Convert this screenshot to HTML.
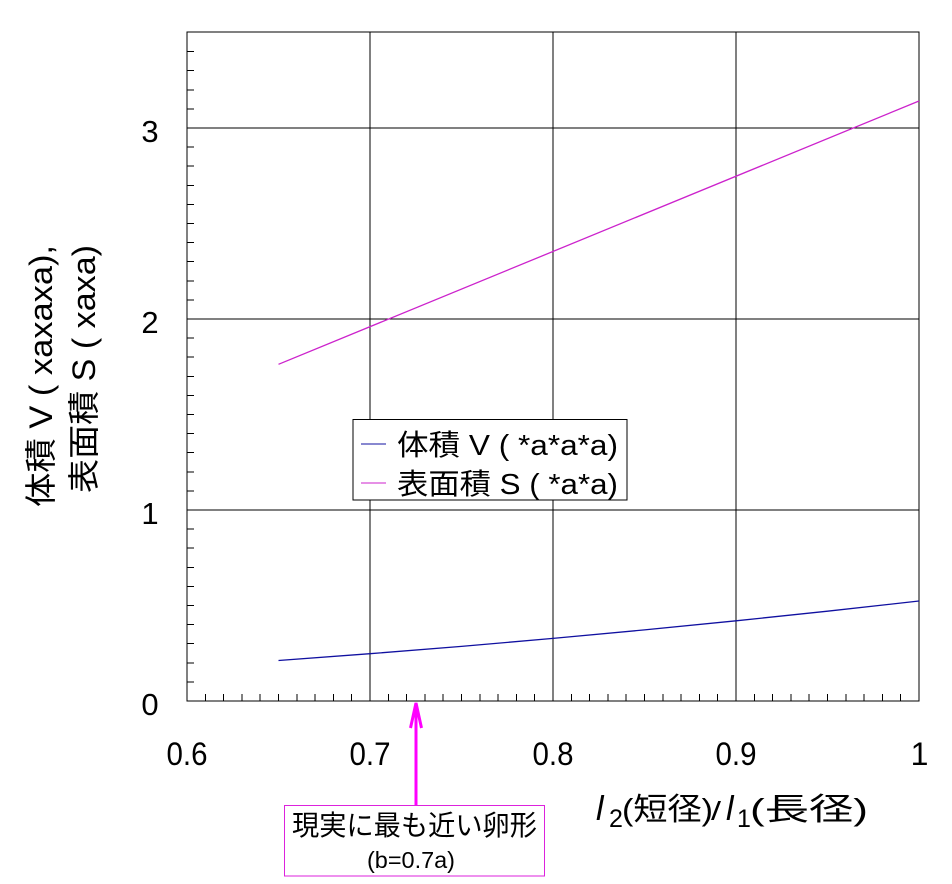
<!DOCTYPE html>
<html>
<head>
<meta charset="utf-8">
<style>
html,body{margin:0;padding:0;background:#fff;}
svg{display:block;}
text{font-family:"Liberation Sans","Noto Sans CJK JP",sans-serif;fill:#000;}
</style>
</head>
<body>
<svg width="952" height="884" viewBox="0 0 952 884" xmlns="http://www.w3.org/2000/svg">
<rect x="0" y="0" width="952" height="884" fill="#fff"/>

<!-- grid -->
<g stroke="#000" stroke-width="1" shape-rendering="crispEdges">
  <line x1="370" y1="32" x2="370" y2="701"/>
  <line x1="553" y1="32" x2="553" y2="701"/>
  <line x1="736" y1="32" x2="736" y2="701"/>
  <line x1="187" y1="510" x2="919" y2="510"/>
  <line x1="187" y1="319" x2="919" y2="319"/>
  <line x1="187" y1="128" x2="919" y2="128"/>
  <rect x="187" y="32" width="732" height="669" fill="none"/>
</g>

<!-- y minor ticks -->
<g stroke="#000" stroke-width="1" shape-rendering="crispEdges">
  <line x1="187" y1="681.9" x2="194" y2="681.9"/>
  <line x1="187" y1="662.8" x2="194" y2="662.8"/>
  <line x1="187" y1="643.7" x2="194" y2="643.7"/>
  <line x1="187" y1="624.6" x2="194" y2="624.6"/>
  <line x1="187" y1="605.5" x2="194" y2="605.5"/>
  <line x1="187" y1="586.4" x2="194" y2="586.4"/>
  <line x1="187" y1="567.3" x2="194" y2="567.3"/>
  <line x1="187" y1="548.2" x2="194" y2="548.2"/>
  <line x1="187" y1="529.1" x2="194" y2="529.1"/>
  <line x1="187" y1="490.9" x2="194" y2="490.9"/>
  <line x1="187" y1="471.8" x2="194" y2="471.8"/>
  <line x1="187" y1="452.7" x2="194" y2="452.7"/>
  <line x1="187" y1="433.6" x2="194" y2="433.6"/>
  <line x1="187" y1="414.5" x2="194" y2="414.5"/>
  <line x1="187" y1="395.4" x2="194" y2="395.4"/>
  <line x1="187" y1="376.3" x2="194" y2="376.3"/>
  <line x1="187" y1="357.2" x2="194" y2="357.2"/>
  <line x1="187" y1="338.1" x2="194" y2="338.1"/>
  <line x1="187" y1="299.9" x2="194" y2="299.9"/>
  <line x1="187" y1="280.8" x2="194" y2="280.8"/>
  <line x1="187" y1="261.7" x2="194" y2="261.7"/>
  <line x1="187" y1="242.6" x2="194" y2="242.6"/>
  <line x1="187" y1="223.5" x2="194" y2="223.5"/>
  <line x1="187" y1="204.4" x2="194" y2="204.4"/>
  <line x1="187" y1="185.3" x2="194" y2="185.3"/>
  <line x1="187" y1="166.2" x2="194" y2="166.2"/>
  <line x1="187" y1="147.1" x2="194" y2="147.1"/>
  <line x1="187" y1="108.9" x2="194" y2="108.9"/>
  <line x1="187" y1="89.8" x2="194" y2="89.8"/>
  <line x1="187" y1="70.7" x2="194" y2="70.7"/>
  <line x1="187" y1="51.6" x2="194" y2="51.6"/>
</g>

<!-- x minor ticks -->
<g stroke="#000" stroke-width="1" shape-rendering="crispEdges">
  <line x1="205.3" y1="701" x2="205.3" y2="694"/>
  <line x1="223.6" y1="701" x2="223.6" y2="694"/>
  <line x1="241.9" y1="701" x2="241.9" y2="694"/>
  <line x1="260.2" y1="701" x2="260.2" y2="694"/>
  <line x1="278.5" y1="701" x2="278.5" y2="694"/>
  <line x1="296.8" y1="701" x2="296.8" y2="694"/>
  <line x1="315.1" y1="701" x2="315.1" y2="694"/>
  <line x1="333.4" y1="701" x2="333.4" y2="694"/>
  <line x1="351.7" y1="701" x2="351.7" y2="694"/>
  <line x1="388.3" y1="701" x2="388.3" y2="694"/>
  <line x1="406.6" y1="701" x2="406.6" y2="694"/>
  <line x1="424.9" y1="701" x2="424.9" y2="694"/>
  <line x1="443.2" y1="701" x2="443.2" y2="694"/>
  <line x1="461.5" y1="701" x2="461.5" y2="694"/>
  <line x1="479.8" y1="701" x2="479.8" y2="694"/>
  <line x1="498.1" y1="701" x2="498.1" y2="694"/>
  <line x1="516.4" y1="701" x2="516.4" y2="694"/>
  <line x1="534.7" y1="701" x2="534.7" y2="694"/>
  <line x1="571.3" y1="701" x2="571.3" y2="694"/>
  <line x1="589.6" y1="701" x2="589.6" y2="694"/>
  <line x1="607.9" y1="701" x2="607.9" y2="694"/>
  <line x1="626.2" y1="701" x2="626.2" y2="694"/>
  <line x1="644.5" y1="701" x2="644.5" y2="694"/>
  <line x1="662.8" y1="701" x2="662.8" y2="694"/>
  <line x1="681.1" y1="701" x2="681.1" y2="694"/>
  <line x1="699.4" y1="701" x2="699.4" y2="694"/>
  <line x1="717.7" y1="701" x2="717.7" y2="694"/>
  <line x1="754.3" y1="701" x2="754.3" y2="694"/>
  <line x1="772.6" y1="701" x2="772.6" y2="694"/>
  <line x1="790.9" y1="701" x2="790.9" y2="694"/>
  <line x1="809.2" y1="701" x2="809.2" y2="694"/>
  <line x1="827.5" y1="701" x2="827.5" y2="694"/>
  <line x1="845.8" y1="701" x2="845.8" y2="694"/>
  <line x1="864.1" y1="701" x2="864.1" y2="694"/>
  <line x1="882.4" y1="701" x2="882.4" y2="694"/>
  <line x1="900.7" y1="701" x2="900.7" y2="694"/>
</g>

<!-- data series -->
<polyline fill="none" stroke="#1010a0" stroke-width="1.3"
  points="278.5,660.5 370,653.7 461.5,646.4 553,638.4 644.5,629.9 736,620.8 827.5,611.2 919,601"/>
<polyline fill="none" stroke="#cc22cc" stroke-width="1.3"
  points="278.5,364.3 919,101"/>

<!-- y tick labels -->
<g font-size="31" text-anchor="middle">
  <text x="150" y="715">0</text>
  <text x="150" y="524">1</text>
  <text x="150" y="333">2</text>
  <text x="150" y="142">3</text>
</g>

<!-- x tick labels -->
<g font-size="32" text-anchor="middle">
  <text x="187" y="765" textLength="41" lengthAdjust="spacingAndGlyphs">0.6</text>
  <text x="370" y="765" textLength="41" lengthAdjust="spacingAndGlyphs">0.7</text>
  <text x="553" y="765" textLength="41" lengthAdjust="spacingAndGlyphs">0.8</text>
  <text x="736" y="765" textLength="41" lengthAdjust="spacingAndGlyphs">0.9</text>
  <text x="919.5" y="765">1</text>
</g>

<!-- y title -->
<text transform="translate(52,507) rotate(-90)" font-size="32" x="0" y="0" textLength="262" lengthAdjust="spacingAndGlyphs">体積 V ( xaxaxa),</text>
<text transform="translate(95,493) rotate(-90)" font-size="32" x="0" y="0" textLength="248" lengthAdjust="spacingAndGlyphs">表面積 S ( xaxa)</text>

<!-- x title -->
<text x="596" y="820" font-family="Liberation Serif" font-style="italic" font-size="34">l</text>
<text x="609" y="827" font-family="Liberation Serif" font-size="25">2</text>
<text x="622" y="820" font-size="31" textLength="91" lengthAdjust="spacingAndGlyphs">(短径)</text>
<text x="711" y="820" font-size="26" textLength="10" lengthAdjust="spacingAndGlyphs">/</text>
<text x="726" y="820" font-family="Liberation Serif" font-style="italic" font-size="34">l</text>
<text x="737" y="827" font-family="Liberation Serif" font-size="25">1</text>
<text x="750" y="820" font-size="31" textLength="118" lengthAdjust="spacingAndGlyphs">(長径)</text>

<!-- legend -->
<rect x="353" y="419.5" width="274" height="80.5" fill="#fff" stroke="#000" stroke-width="1" shape-rendering="crispEdges"/>
<line x1="361" y1="444" x2="386" y2="444" stroke="#1010a0" stroke-width="1"/>
<line x1="361" y1="483" x2="386" y2="483" stroke="#cc22cc" stroke-width="1"/>
<text x="397" y="455" font-size="29" textLength="221" lengthAdjust="spacingAndGlyphs">体積 V ( *a*a*a)</text>
<text x="397" y="494" font-size="29" textLength="221" lengthAdjust="spacingAndGlyphs">表面積 S ( *a*a)</text>

<!-- annotation arrow -->
<line x1="416" y1="704" x2="416" y2="805" stroke="#ff00ff" stroke-width="3"/>
<polyline points="410.5,728 416,703 421.5,728" fill="none" stroke="#ff00ff" stroke-width="3"/>

<!-- annotation box -->
<rect x="284.5" y="805.5" width="260" height="70.5" fill="#fff" stroke="#dd22dd" stroke-width="1" shape-rendering="crispEdges"/>
<text x="292" y="835" font-size="28" textLength="245" lengthAdjust="spacingAndGlyphs">現実に最も近い卵形</text>
<text x="367" y="868" font-size="23" textLength="88" lengthAdjust="spacingAndGlyphs">(b=0.7a)</text>
</svg>
</body>
</html>
